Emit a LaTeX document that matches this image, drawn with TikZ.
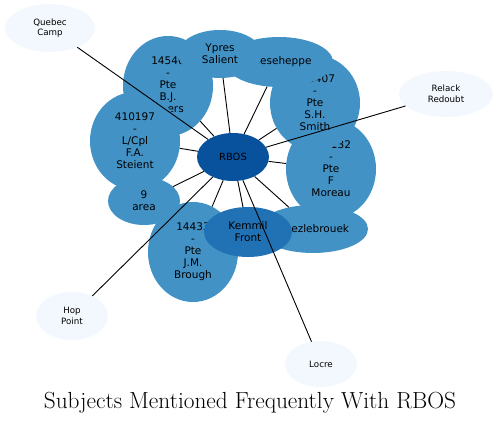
\documentclass[tikz,border=0pt]{standalone}
\usepackage{fontspec}
\newfontfamily\nodefont{DejaVu Sans}
\usetikzlibrary{shapes.geometric}
\definecolor{innerc}{HTML}{4292C6}
\definecolor{midc}{HTML}{2171B5}
\definecolor{centerc}{HTML}{08519C}
\definecolor{outerc}{HTML}{F3F8FE}
\begin{document}
\begin{tikzpicture}[x=1pt,y=-1pt,
  base/.style={ellipse, draw=none, inner sep=0pt, align=center, text=black},
  innernode/.style={base, fill=innerc, font=\nodefont\fontsize{10.5}{12}\selectfont},
  midnode/.style={base, fill=midc, font=\nodefont\fontsize{10.5}{12}\selectfont},
  centernode/.style={base, fill=centerc, font=\nodefont\fontsize{9.9}{12}\selectfont},
  outernode/.style={base, fill=outerc, font=\nodefont\fontsize{8.7}{10.5}\selectfont},
  edge/.style={draw=black, line width=0.9pt},
  titlestyle/.style={font=\fontsize{23.3}{27}\selectfont, inner sep=0pt}]
\useasboundingbox (0,0) rectangle (500,425);
% inner nodes, in drawing order
\node[innernode, minimum width=90, minimum height=100] (moreau) at (331,169) {145132\\-\\Pte\\F\\Moreau};
\node[innernode, minimum width=90, minimum height=96] (smith) at (315,103) {135407\\-\\Pte\\S.H.\\Smith};
\node[innernode, minimum width=108, minimum height=50] (boes) at (279,62) {Boeseheppe};
\node[innernode, minimum width=90, minimum height=100] (evers) at (168,86) {14540\\-\\Pte\\B.J.\\Myers};
\node[innernode, minimum width=84, minimum height=48] (ypres) at (220,54) {Ypres\\Salient};
\node[innernode, minimum width=90, minimum height=98] (steient) at (135,141) {410197\\-\\L/Cpl\\F.A.\\Steient};
\node[innernode, minimum width=72, minimum height=48] (area) at (144,201) {9\\area};
\node[innernode, minimum width=90, minimum height=100] (brough) at (193,252) {14433\\-\\Pte\\J.M.\\Brough};
\node[innernode, minimum width=110, minimum height=48] (haz) at (313,229) {Haezlebrouek};
\node[midnode, minimum width=88, minimum height=50] (kemmil) at (248,232) {Kemmil\\Front};
% outer nodes
\node[outernode, minimum width=90, minimum height=48] (quebec) at (50,28) {Quebec\\Camp};
\node[outernode, minimum width=94, minimum height=46] (relack) at (446,94) {Relack\\Redoubt};
\node[outernode, minimum width=72, minimum height=48] (hop) at (72,316) {Hop\\Point};
\node[outernode, minimum width=72, minimum height=46] (locre) at (321,364) {Locre};
% centre node
\node[centernode, minimum width=72, minimum height=48] (rbos) at (233,157) {RBOS};
% edges
\foreach \t in {moreau,smith,boes,evers,ypres,steient,area,brough,haz,kemmil,quebec,relack,hop,locre}
  \draw[edge] (rbos) -- (\t);
\node[titlestyle] (title) at (250,403) {Subjects Mentioned Frequently With RBOS};
\end{tikzpicture}
\end{document}
